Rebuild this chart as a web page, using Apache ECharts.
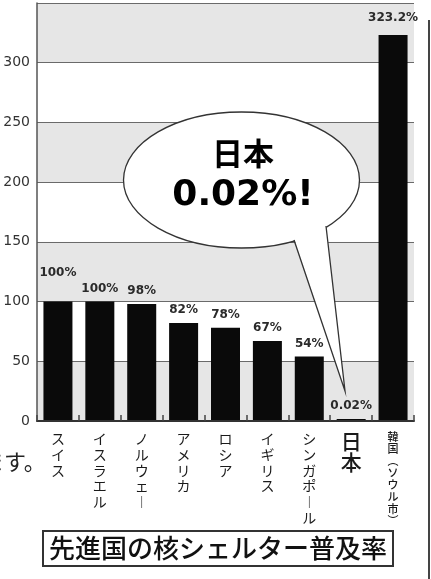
<!DOCTYPE html>
<html>
<head>
<meta charset="utf-8">
<script src="https://cdn.jsdelivr.net/npm/echarts@6/dist/echarts.min.js"></script>
<style>
  html, body { margin: 0; padding: 0; background: #fff; }
  #main { width: 431px; height: 579px; }
</style>
</head>
<body>
<div id="main"></div>
<script>
var countries = ['スイス', 'イスラエル', 'ノルウェー', 'アメリカ', 'ロシア', 'イギリス', 'シンガポール', '日本', '韓国(ソウル市)'];
var rates = [100, 100, 98, 82, 78, 67, 54, 0.02, 323.2];
var yTicks = [0, 50, 100, 150, 200, 250, 300, 350];

var myChart = echarts.init(document.getElementById('main'));

// vertical writing: one char per line, vertical forms for ー and ()
function vertical(s) {
    return s.split('').map(function (c) {
        if (c === 'ー') return '︱';
        if (c === '(') return '︵';
        if (c === ')') return '︶';
        return c;
    }).join('\n');
}

var catData = countries.map(function (c) {
    if (c === '日本') return { value: c, textStyle: { fontSize: 21, lineHeight: 21, fontWeight: 500 } };
    if (c.indexOf('韓国') === 0) return { value: c, textStyle: { fontSize: 11, lineHeight: 12, fontWeight: 500 } };
    return c;
});

var barData = rates.map(function (v, i) {
    var item = { value: v };
    if (i === 0) item.label = { offset: [0, -16] };
    if (i === 8) item.label = { offset: [0, -4] };
    return item;
});

var option = {
    animation: false,
    title: {
        text: '先進国の核シェルター普及率',
        left: 43,
        top: 531,
        padding: [3, 6],
        borderColor: '#333',
        borderWidth: 2,
        textStyle: {
            fontFamily: 'Noto Sans CJK JP',
            fontSize: 26,
            lineHeight: 29,
            fontWeight: 500,
            color: '#111'
        }
    },
    grid: { left: 37, right: 17, top: 3, bottom: 158 },
    xAxis: {
        type: 'category',
        data: catData,
        axisLine: { lineStyle: { color: '#333', width: 2 } },
        axisTick: { show: true, interval: 0, inside: true, length: 6, lineStyle: { color: '#444', width: 1.5 } },
        axisLabel: {
            interval: 0,
            margin: 10,
            color: '#1a1a1a',
            fontFamily: 'Noto Sans CJK JP',
            fontSize: 14,
            lineHeight: 15.7,
            formatter: vertical
        },
        z: 5
    },
    yAxis: {
        type: 'value',
        min: yTicks[0],
        max: yTicks[yTicks.length - 1],
        interval: 50,
        axisLine: { show: true, lineStyle: { color: '#555', width: 1.5 } },
        axisTick: { show: false },
        axisLabel: {
            margin: 7,
            color: '#333',
            fontFamily: 'DejaVu Sans',
            fontSize: 14,
            formatter: function (v) { return v === 350 ? '' : String(v); }
        },
        splitLine: { lineStyle: { color: '#6a6a6a', width: 1 } },
        splitArea: { show: true, areaStyle: { color: ['#e6e6e6', '#ffffff'] } }
    },
    series: [{
        type: 'bar',
        data: barData,
        barWidth: 29,
        barMinHeight: 2,
        itemStyle: { color: '#0a0a0a' },
        label: {
            show: true,
            position: 'top',
            distance: 7,
            color: '#2a2a2a',
            fontFamily: 'DejaVu Sans',
            fontWeight: 'bold',
            fontSize: 12,
            formatter: function (p) { return p.value + '%'; }
        }
    }],
    graphic: [
        // speech bubble
        {
            type: 'ellipse', z: 100,
            shape: { cx: 241.5, cy: 180, rx: 118, ry: 68 },
            style: { fill: '#fff', stroke: '#333', lineWidth: 1.3 }
        },
        {
            type: 'polygon', z: 101,
            shape: { points: [[294, 238], [345, 391], [326, 224]] },
            style: { fill: '#fff' }
        },
        {
            type: 'polyline', z: 102,
            shape: { points: [[294, 240], [345, 391], [326, 226]] },
            style: { fill: null, stroke: '#333', lineWidth: 1.3 }
        },
        {
            type: 'text', z: 103, x: 243, y: 153,
            style: { text: '日本', fontFamily: 'Noto Sans CJK JP', fontWeight: 'bold', fontSize: 31, fill: '#000', align: 'center', verticalAlign: 'middle' }
        },
        {
            type: 'text', z: 103, x: 243, y: 196,
            style: { text: '0.02%!', fontFamily: 'DejaVu Sans', fontWeight: 'bold', fontSize: 36, fill: '#000', align: 'center', verticalAlign: 'middle' }
        },
        // page text and page border from the scan
        {
            type: 'text', x: -18, y: 462,
            style: { text: 'ます。', fontFamily: 'Noto Sans CJK JP', fontSize: 22, fill: '#222', verticalAlign: 'middle' }
        },
        {
            type: 'line',
            shape: { x1: 429, y1: 20, x2: 429, y2: 579 },
            style: { stroke: '#444', lineWidth: 2 }
        }
    ]
};
myChart.setOption(option);
</script>
</body>
</html>
